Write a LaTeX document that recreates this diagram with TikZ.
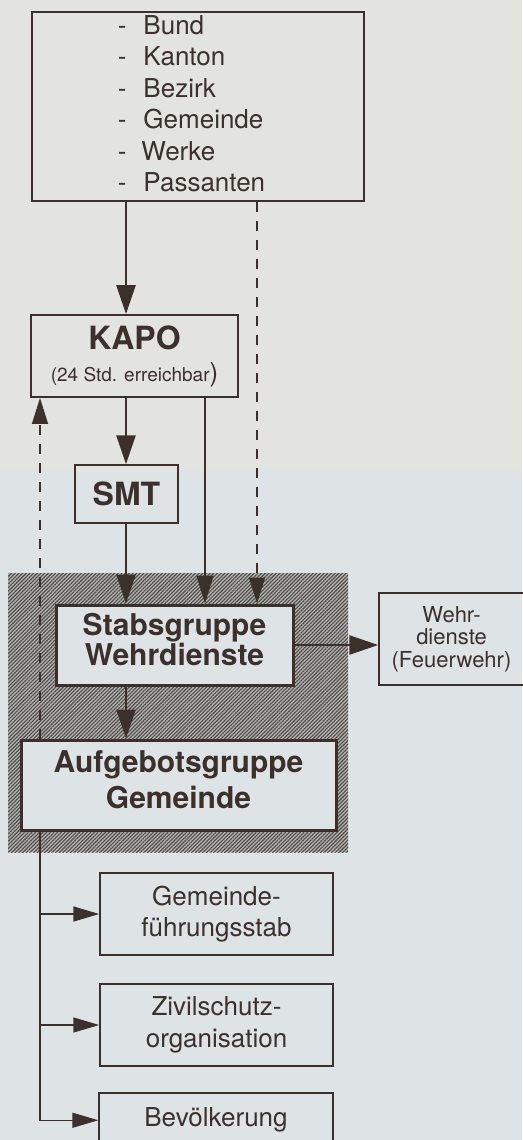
\documentclass[tikz,border=0pt]{standalone}
\usepackage{fontspec}
\setmainfont{TeX Gyre Heros}
\usetikzlibrary{arrows.meta,patterns.meta}
\definecolor{bgtop}{HTML}{E3E3E0}
\definecolor{bgbot}{HTML}{DEE3E5}
\definecolor{ink}{HTML}{3B302C}
\definecolor{hatchfill}{HTML}{B4B4B2}
\definecolor{hatchline}{HTML}{4E4A48}
\begin{document}
\begin{tikzpicture}[x=1pt,y=-1pt,
  box/.style={draw=ink, text=ink, line width=1.5pt, inner sep=0pt, align=center},
  thickbox/.style={box, line width=3pt, fill=bgbot},
  regtext/.style={font=\fontsize{26}{31.5}\selectfont},
  boldtext/.style={font=\fontsize{30}{30}\selectfont\bfseries},
  mainarrow/.style={draw=ink, line width=2.6pt, -{Triangle[length=29pt,width=19pt]}},
  thinarrow/.style={draw=ink, line width=1.4pt, -{Triangle[length=28pt,width=17pt]}},
  dasharrow/.style={draw=ink, line width=1.4pt, dash pattern=on 10pt off 9pt, -{Triangle[length=26pt,width=16pt]}},
  brancharrow/.style={draw=ink, line width=1.5pt, -{Triangle[length=26pt,width=15pt]}}
]
% page and background
\fill[bgtop] (0,0) rectangle (522,470);
\fill[bgbot] (0,470) rectangle (522,1140);
\useasboundingbox (0,0) rectangle (522,1140);

% hatched area
\fill[hatchfill] (8,573) rectangle (348,852);
\path[pattern={Lines[angle=45,distance=2.6pt,line width=1.1pt]}, pattern color=hatchline] (8,573) rectangle (348,852);

% x positions of connectors
\coordinate (xmain) at (126,0);
\coordinate (xthin) at (205,0);
\coordinate (xdash) at (257,0);
\coordinate (xleft) at (40,0);

% nodes
\node[box, minimum width=332pt, minimum height=187pt, regtext] (quellen) at (198,106.5)
  {\begin{tabular}[t]{@{}l@{}}
   -\hspace{17pt}Bund\\
   -\hspace{17pt}Kanton\\
   -\hspace{17pt}Bezirk\\
   -\hspace{17pt}Gemeinde\\
   -\hspace{15pt}Werke\\
   -\hspace{17pt}Passanten
   \end{tabular}\kern13pt};

\node[box, line width=1.8pt, minimum width=207pt, minimum height=82pt,
      font=\fontsize{19}{32}\selectfont] (kapo) at (134.5,356)
  {{\fontsize{32}{32}\selectfont\bfseries KAPO}\\(24 Std. erreichbar{\fontsize{26}{32}\selectfont)}};

\node[box, minimum width=103pt, minimum height=58pt,
      font=\fontsize{32}{32}\selectfont\bfseries] (smt) at (126.5,494) {SMT};

\node[thickbox, minimum width=237pt, minimum height=80pt, boldtext] (stab) at (174.5,645)
  {Stabsgruppe\\Wehrdienste\rule[-12pt]{0pt}{12pt}};

\node[box, minimum width=145pt, minimum height=92pt,
      font=\fontsize{22}{22.5}\selectfont] (wehr) at (451.5,639)
  {Wehr-\\dienste\\(Feuerwehr)};

\node[thickbox, minimum width=315pt, minimum height=90pt,
      font=\fontsize{30}{36}\selectfont\bfseries] (aufg) at (178.5,785)
  {Aufgebotsgruppe\\Gemeinde\rule[-10pt]{0pt}{10pt}};

\node[box, minimum width=233pt, minimum height=82pt, regtext] (gem) at (216.5,914)
  {Gemeinde-\\führungsstab};

\node[box, minimum width=233pt, minimum height=82pt, regtext] (ziv) at (216.5,1025)
  {Zivilschutz-\\organisation};

\node[box, minimum width=234pt, minimum height=54.5pt, regtext] (bev) at (216,1120.25)
  {Bevölkerung};

% connectors
\draw[mainarrow] (quellen.south -| xmain) -- (kapo.north -| xmain);
\draw[mainarrow] (kapo.south -| xmain) -- (smt.north -| xmain);
\draw[mainarrow] (smt.south -| xmain) -- (stab.north -| xmain);
\draw[thinarrow] (kapo.south -| xthin) -- (stab.north -| xthin);
\draw[dasharrow] (quellen.south -| xdash) -- (stab.north -| xdash);
\draw[mainarrow] (stab.east) -- (stab.east -| wehr.west);
\draw[mainarrow] (stab.south -| xmain) -- (aufg.north -| xmain);
\draw[dasharrow] (aufg.north -| xleft) -- (kapo.south -| xleft);
\draw[brancharrow] (aufg.south -| xleft) |- (gem.west);
\draw[brancharrow] (aufg.south -| xleft) |- (ziv.west);
\draw[brancharrow] (aufg.south -| xleft) |- (bev.west);
\end{tikzpicture}
\end{document}
